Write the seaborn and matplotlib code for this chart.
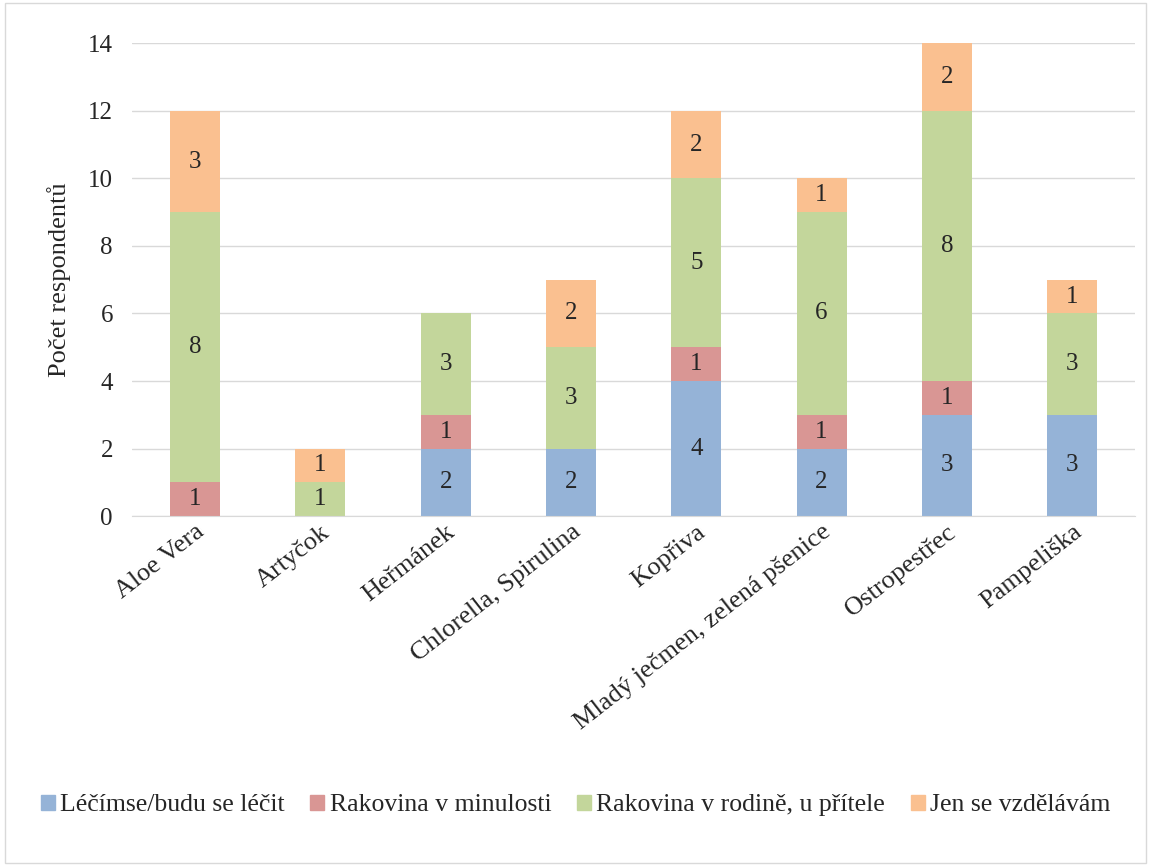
import matplotlib.pyplot as plt
import matplotlib.patches as mpatches
import numpy as np
import pandas as pd
import seaborn as sns

categories = ["Aloe Vera", "Artyčok", "Heřmánek", "Chlorella, Spirulina",
              "Kopřiva", "Mladý ječmen, zelená pšenice", "Ostropestřec", "Pampeliška"]
series_names = ["Léčímse/budu se léčit", "Rakovina v minulosti",
                "Rakovina v rodině, u přítele", "Jen se vzdělávám"]
lecim = [0, 0, 2, 2, 4, 2, 3, 3]
minulost = [1, 0, 1, 0, 1, 1, 1, 0]
rodina = [8, 1, 3, 3, 5, 6, 8, 3]
vzdelavam = [3, 1, 0, 2, 2, 1, 2, 1]
colors = ["#95B3D7", "#D99694", "#C3D69B", "#FAC090"]

sns.set_style("white")
plt.rcParams['font.family'] = ['Liberation Serif', 'DejaVu Serif']

fig = plt.figure(figsize=(11.51, 8.66), dpi=100)
ax = fig.add_axes([0.115, 0.404, 0.871, 0.546])

values = [lecim, minulost, rodina, vzdelavam]
bottom = np.zeros(len(categories))
for name, vals, col in zip(series_names, values, colors):
    df = pd.DataFrame({"cat": categories, "val": vals})
    sns.barplot(data=df, x="cat", y="val", color=col, width=0.4, linewidth=0,
                bottom=bottom.copy(), ax=ax, saturation=1, errorbar=None)
    cont = ax.containers[-1]
    ax.bar_label(cont, labels=[str(v) if v > 0 else "" for v in vals],
                 label_type="center", fontsize=18)
    bottom += np.array(vals)

ax.set_ylim(0, 14)
ax.set_yticks(range(0, 15, 2))
ax.set_xlim(-0.5, len(categories) - 0.5)
ax.yaxis.grid(True, color="#D9D9D9", linewidth=1)
ax.set_axisbelow(True)
for s in ["top", "right", "left"]:
    ax.spines[s].set_visible(False)
ax.spines["bottom"].set_color("#D9D9D9")
ax.tick_params(axis="both", length=0, labelsize=18)
ax.tick_params(axis="y", pad=14)
ax.set_xticks(range(len(categories)))
ax.set_xticklabels(categories, rotation=38, ha="right", rotation_mode="anchor", fontsize=19)
ax.set_xlabel("")
ax.set_ylabel("Počet respondentů", fontsize=19, labelpad=12)

handles = [mpatches.Patch(color=c, label=n) for n, c in zip(series_names, colors)]
fig.legend(handles=handles, loc="center", bbox_to_anchor=(0.5, 0.07), ncol=4,
           frameon=False, fontsize=18.5, handlelength=0.55, handleheight=0.55,
           handletextpad=0.2, columnspacing=1.0)

fig.patches.append(mpatches.Rectangle((0.004, 0.004), 0.992, 0.992, transform=fig.transFigure,
                                      fill=False, edgecolor="#D9D9D9", linewidth=1))

fig.savefig("out.png", dpi=100)
